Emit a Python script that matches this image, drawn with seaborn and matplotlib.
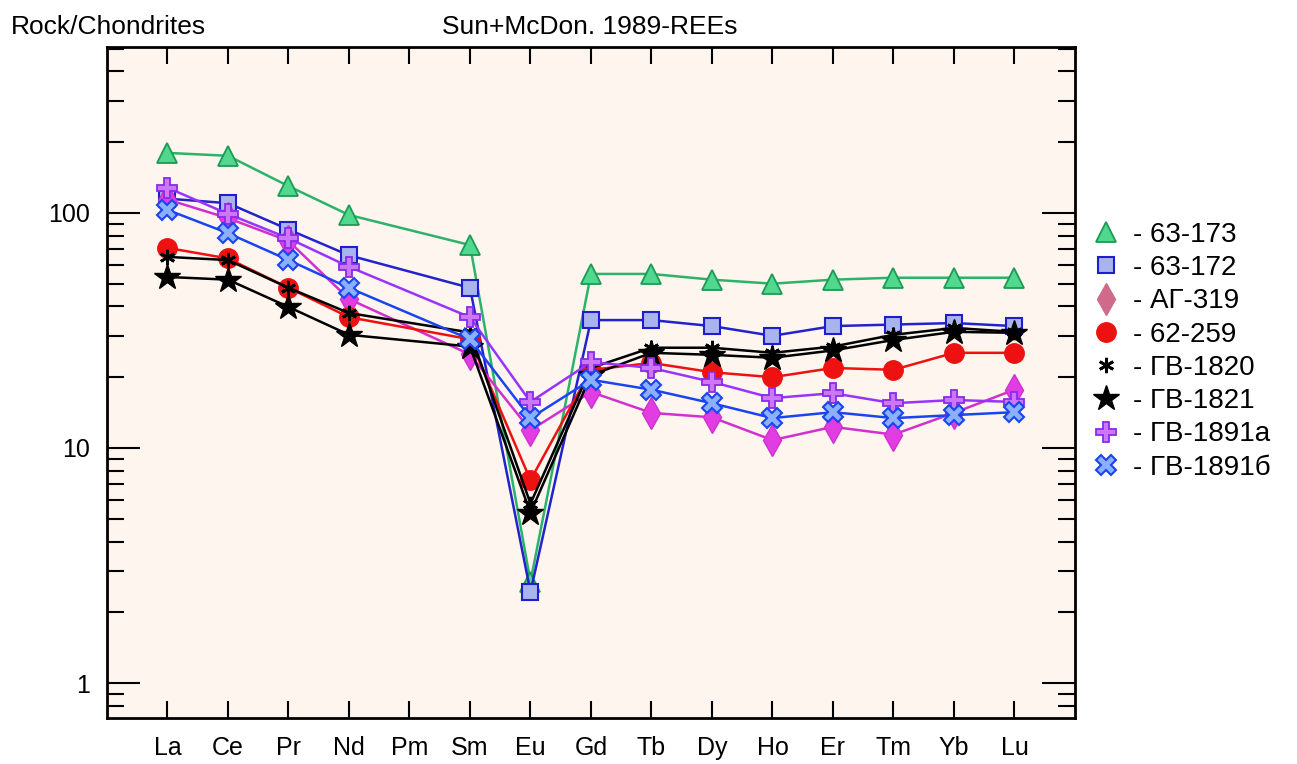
import numpy as np
import pandas as pd
import matplotlib
matplotlib.use("Agg")
import matplotlib.pyplot as plt
from matplotlib.lines import Line2D
from matplotlib.ticker import LogLocator, NullFormatter
import seaborn as sns

elements = ["La", "Ce", "Pr", "Nd", "Pm", "Sm", "Eu", "Gd", "Tb", "Dy", "Ho", "Er", "Tm", "Yb", "Lu"]
nan = np.nan
s_63_173 = [180, 175, 130, 98, nan, 73, 2.7, 55, 55, 52, 50, 52, 53, 53, 53]
s_63_172 = [115, 110, 85, 66, nan, 48, 2.44, 35, 35, 33, 30, 33, 33.5, 34, 33]
s_ag_319 = [114, 95, 76, 43, nan, 25, 11.9, 17.3, 14.1, 13.5, 10.8, 12.3, 11.4, 14.1, 17.7]
s_62_259 = [71, 64, 48, 36, nan, 29, 7.3, 21.5, 23, 21, 20, 21.9, 21.5, 25.4, 25.4]
s_gv_1820 = [65, 63, 48, 37.5, nan, 31, 5.8, 21.9, 26.7, 26.7, 25.4, 27, 30.3, 32.4, 31.2]
s_gv_1821 = [53.4, 52, 39.8, 30.3, nan, 27, 5.3, 20.4, 25.4, 24.9, 24.2, 26, 28.8, 31.2, 30.9]
s_gv_1891a = [128, 99, 78, 59, nan, 36, 15.7, 23.2, 21.9, 19.1, 16.3, 17.1, 15.5, 16, 15.7]
s_gv_1891b = [103, 82, 63, 48, nan, 29, 13.4, 19.5, 17.7, 15.5, 13.4, 14.2, 13.4, 13.8, 14.2]

labels = ["63-173", "63-172", "АГ-319", "62-259", "ГВ-1820", "ГВ-1821", "ГВ-1891а", "ГВ-1891б"]
series = [s_63_173, s_63_172, s_ag_319, s_62_259, s_gv_1820, s_gv_1821, s_gv_1891a, s_gv_1891b]

styles = [
    dict(color="#2BB36A", marker="^", ms=14, mfc="#4FD88E", mec="#1E9A55", mew=1.3),
    dict(color="#2323CC", marker="s", ms=12, mfc="#A9B3EE", mec="#1E1ECC", mew=1.5),
    dict(color="#D030D0", marker="d", ms=16, mfc="#E23DE2", mec="#D030D0", mew=1.0),
    dict(color="#EE1111", marker="o", ms=14, mfc="#EE1111", mec="#EE1111", mew=1.0),
    dict(color="#000000", marker=(6, 2, 0), ms=11, mfc="#000000", mec="#000000", mew=2.0),
    dict(color="#000000", marker="*", ms=19, mfc="#000000", mec="#000000", mew=1.0),
    dict(color="#9933FF", marker="P", ms=15, mfc="#CC77F5", mec="#8A2BE8", mew=1.3),
    dict(color="#1A44F0", marker="X", ms=15, mfc="#8AB0FF", mec="#1A44F0", mew=1.5),
]
legend_mfc = ["#4FD88E", "#A9B3EE", "#D06A8A", "#EE1111", "#000000", "#000000", "#CC77F5", "#8AB0FF"]
legend_mec = ["#1E9A55", "#1E1ECC", "#D06A8A", "#EE1111", "#000000", "#000000", "#8A2BE8", "#1A44F0"]

sns.set_theme(style="white")
plt.rcParams["font.family"] = ["Liberation Sans", "DejaVu Sans"]
plt.rcParams["text.color"] = "black"
plt.rcParams["xtick.color"] = "black"
plt.rcParams["ytick.color"] = "black"

fig = plt.figure(figsize=(12.97, 7.64), dpi=100)
ax = fig.add_axes([0.0825, 0.0602, 0.7463, 0.8783])
ax.set_facecolor("#FDF5EE")

xpos = np.arange(1, len(elements) + 1)
for lab, vals, st in zip(labels, series, styles):
    df = pd.DataFrame({"x": xpos, "y": vals}).dropna()
    sns.lineplot(data=df, x="x", y="y", ax=ax, color=st["color"], linewidth=1.8,
                 marker=st["marker"], markersize=st["ms"], markerfacecolor=st["mfc"],
                 markeredgecolor=st["mec"], markeredgewidth=st["mew"], legend=False, sort=False)

ax.set_yscale("log")
ax.set_ylim(0.71, 508)
ax.set_xlim(0, 16)
ax.set_xticks(xpos)
ax.set_xticklabels(elements, fontsize=18)
ax.set_yticks([1, 10, 100])
ax.set_yticklabels(["1", "10", "100"], fontsize=18)
ax.yaxis.set_minor_locator(LogLocator(base=10, subs=np.arange(2, 10)))
ax.yaxis.set_minor_formatter(NullFormatter())
ax.set_xlabel("")
ax.set_ylabel("")

ax.tick_params(axis="x", which="major", direction="in", length=12, width=1.5, top=True, bottom=True, pad=13,
               colors="black", labelcolor="black")
ax.tick_params(axis="y", which="major", direction="in", length=24, width=1.5, left=True, right=True, pad=12,
               colors="black", labelcolor="black")
ax.tick_params(axis="y", which="minor", direction="in", length=12, width=1.5, left=True, right=True, colors="black")
for sp in ax.spines.values():
    sp.set_visible(True)
    sp.set_color("black")
    sp.set_linewidth(2.0)

handles = [Line2D([], [], linestyle="none", marker=st["marker"], markersize=st["ms"],
                  markerfacecolor=mf, markeredgecolor=me, markeredgewidth=st["mew"])
           for st, mf, me in zip(styles, legend_mfc, legend_mec)]
leg = fig.legend(handles, ["- " + l for l in labels], loc="upper left", bbox_to_anchor=(0.831, 0.724),
                 frameon=False, fontsize=20, labelspacing=0.26, handletextpad=0.4, borderaxespad=0,
                 handlelength=1.2)
for t in leg.get_texts():
    t.set_color("black")

fig.text(0.008, 0.98, "Rock/Chondrites", fontsize=19, ha="left", va="top", color="black")
fig.text(0.455, 0.98, "Sun+McDon. 1989-REEs", fontsize=19, ha="center", va="top", color="black")

fig.savefig("out.png", dpi=100, facecolor="white")
